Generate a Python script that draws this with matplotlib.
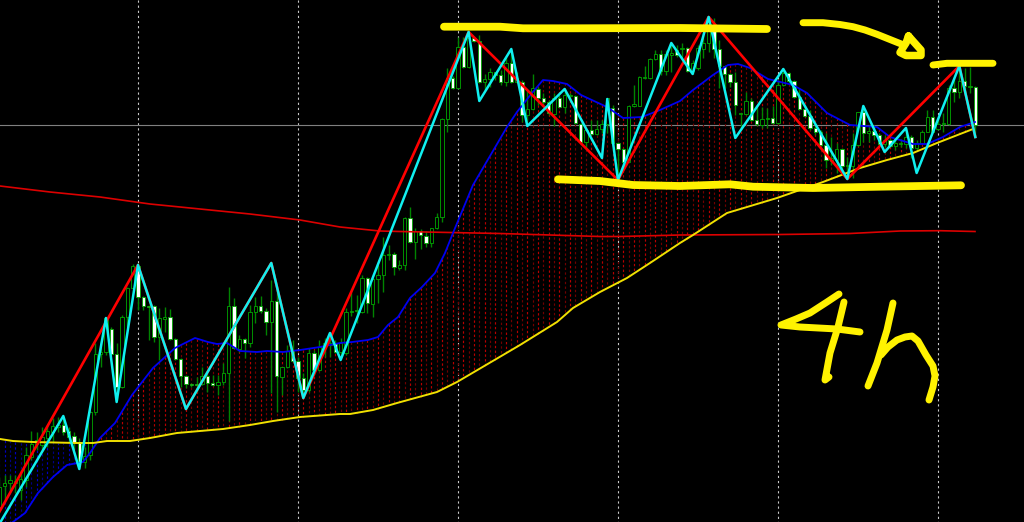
#!/usr/bin/env python3
"""
4h candle chart with moving averages, zigzag lines and hand drawn marks.
Prices are kept in screen units read off the picture at 3x (y grows downwards).
"""

import numpy as np
import matplotlib
matplotlib.use("Agg")
import matplotlib.pyplot as plt

opens = [
    1520, 1458, 1450, 1448, 1470, 1440, 1370, 1332, 1335, 1315,
    1295, 1280, 1275, 1293, 1308, 1325, 1387, 1365, 1237, 1063,
    1055, 988, 1062, 1162, 950, 863, 798, 892, 918, 918,
    1012, 956, 952, 1018, 1077, 1127, 1153, 1153, 1153, 1128,
    1150, 1155, 1147, 1120, 918, 1046, 1018, 1030, 937, 918,
    933, 967, 902, 1130, 1102, 1050, 1083, 1135, 1170, 1060,
    1110, 1042, 1034, 1028, 1055, 1060, 935, 933, 935, 835,
    912, 838, 825, 765, 762, 803, 796, 655, 727, 692,
    707, 730, 685, 650, 358, 233, 265, 140, 200, 115,
    122, 247, 238, 217, 226, 247, 190, 247, 245, 345,
    327, 267, 295, 306, 342, 295, 322, 288, 287, 372,
    425, 390, 402, 388, 372, 323, 430, 447, 485, 317,
    317, 234, 235, 178, 163, 212, 165, 150, 148, 145,
    212, 205, 147, 128, 80, 147, 198, 222, 247, 343,
    341, 302, 360, 375, 358, 353, 370, 255, 218, 243,
    290, 327, 347, 385, 395, 435, 483, 480, 448, 498,
    497, 435, 337, 398, 393, 405, 432, 420, 438, 433,
    433, 410, 445, 430, 395, 352, 388, 373, 373, 265,
    275, 242, 261, 260,
]
closes = [
    1460, 1448, 1440, 1442, 1438, 1365, 1332, 1320, 1310, 1292,
    1278, 1275, 1295, 1310, 1325, 1385, 1367, 1237, 1063, 1055,
    955, 1062, 1162, 950, 863, 798, 892, 918, 920, 1012,
    955, 952, 1018, 1077, 1127, 1153, 1156, 1156, 1128, 1150,
    1155, 1147, 1118, 918, 1043, 1018, 1030, 937, 918, 933,
    967, 902, 1127, 1102, 1052, 1083, 1135, 1170, 1060, 1110,
    1042, 1030, 1030, 1055, 1028, 935, 932, 930, 835, 910,
    838, 825, 765, 762, 802, 796, 655, 727, 692, 706,
    728, 685, 650, 358, 233, 265, 140, 200, 115, 122,
    247, 238, 217, 226, 247, 190, 247, 233, 345, 327,
    265, 295, 306, 340, 295, 320, 285, 285, 370, 425,
    390, 402, 388, 372, 295, 430, 447, 485, 317, 313,
    230, 230, 178, 163, 212, 163, 160, 165, 145, 212,
    190, 145, 128, 65, 147, 198, 222, 247, 315, 340,
    302, 360, 373, 358, 353, 370, 255, 218, 243, 290,
    327, 347, 385, 395, 435, 480, 475, 448, 497, 495,
    435, 337, 398, 393, 405, 432, 420, 438, 430, 430,
    410, 445, 430, 395, 352, 395, 372, 370, 265, 275,
    242, 258, 258, 375,
]
highs = [
    1430, 1425, 1425, 1425, 1410, 1340, 1292, 1295, 1280, 1275,
    1255, 1250, 1250, 1280, 1295, 1315, 1340, 1230, 1030, 1030,
    950, 980, 1030, 945, 860, 792, 788, 888, 915, 915,
    925, 920, 928, 1015, 1075, 1125, 1150, 1130, 1100, 1120,
    1125, 1125, 1090, 862, 895, 1005, 1015, 915, 890, 888,
    925, 840, 860, 1100, 1035, 1020, 1070, 1120, 1045, 1050,
    1020, 1015, 1010, 1020, 1015, 925, 875, 885, 825, 832,
    833, 795, 710, 735, 755, 780, 652, 622, 685, 687,
    692, 683, 640, 355, 205, 228, 110, 110, 95, 112,
    105, 222, 205, 215, 210, 170, 150, 215, 240, 270,
    222, 262, 280, 300, 280, 285, 267, 280, 285, 370,
    385, 360, 360, 360, 295, 315, 425, 445, 315, 255,
    228, 198, 175, 150, 150, 150, 130, 135, 130, 140,
    180, 135, 100, 50, 55, 120, 195, 220, 215, 340,
    275, 295, 320, 320, 325, 318, 240, 205, 215, 240,
    265, 315, 330, 375, 390, 400, 410, 430, 445, 470,
    400, 335, 315, 375, 375, 400, 405, 417, 420, 418,
    385, 405, 420, 390, 330, 330, 350, 340, 255, 235,
    200, 205, 200, 258,
]
lows = [
    1540, 1500, 1480, 1480, 1500, 1460, 1380, 1350, 1350, 1340,
    1325, 1295, 1305, 1330, 1350, 1405, 1405, 1380, 1245, 1100,
    1065, 1065, 1200, 1165, 980, 865, 930, 930, 1020, 1025,
    1080, 995, 1020, 1080, 1160, 1165, 1160, 1175, 1155, 1175,
    1158, 1185, 1155, 1263, 1048, 1055, 1075, 1040, 970, 940,
    1005, 1180, 1235, 1185, 1105, 1085, 1175, 1180, 1175, 1125,
    1112, 1070, 1070, 1060, 1070, 1065, 948, 970, 940, 940,
    952, 910, 875, 780, 825, 810, 810, 730, 778, 747,
    742, 742, 688, 665, 395, 268, 268, 205, 205, 125,
    250, 270, 260, 240, 255, 258, 250, 250, 365, 375,
    330, 315, 315, 345, 377, 322, 340, 300, 372, 428,
    445, 405, 405, 400, 400, 432, 540, 488, 487, 320,
    318, 237, 238, 180, 225, 225, 215, 170, 180, 215,
    222, 210, 175, 155, 175, 265, 265, 260, 345, 390,
    345, 362, 378, 385, 385, 372, 372, 258, 250, 295,
    330, 350, 390, 405, 437, 505, 495, 520, 525, 530,
    535, 438, 425, 425, 420, 435, 440, 442, 450, 440,
    445, 475, 450, 433, 397, 397, 390, 395, 375, 305,
    295, 285, 280, 410,
]

# zigzag turning points: bar number and level in pixels
cyan_bars = [0, 12, 15, 20, 22, 26, 35, 51, 57, 62, 64, 88, 90, 96, 99, 106,
             113, 114, 116, 126, 130, 133, 138, 147, 159, 162, 166, 170, 172,
             180, 183]
cyan_levels = [524, 416, 469, 318, 402, 265, 409, 263, 398, 333, 360, 32, 101,
               49, 126, 89, 158, 99, 180, 43, 74, 17, 138, 69, 179, 106, 152,
               128, 173, 66, 137]
red_bars = [0, 26, 35, 51, 57, 88, 116, 133, 159, 180, 183]
red_levels = [512, 265, 409, 263, 398, 32, 180, 17, 179, 66, 137]

# moving averages
slow_x = [0, 50, 100, 150, 200, 250, 300, 340, 380, 400, 450, 500, 550, 600,
          620, 680, 780, 850, 900, 940, 975]
slow_y = [186, 192, 197, 204, 209, 214, 220, 227, 231, 231.5, 232.5, 233.5,
          235, 236.5, 236.5, 235, 234.5, 233.5, 231, 230.7, 231.5]
mid_x = [0, 13, 25, 38, 53, 67, 83, 90, 100, 115, 132, 153, 175, 195, 208, 217,
         227, 240, 257, 267, 283, 300, 320, 340, 352, 368, 378, 388, 398, 410,
         422, 435, 445, 453, 473, 507, 517, 532, 543, 553, 567, 581, 607, 623,
         642, 660, 680, 693, 713, 728, 738, 750, 768, 793, 807, 827, 850, 877,
         890, 913, 927, 943, 960, 975]
mid_y = [530, 522, 513, 493, 477, 465, 462, 453, 438, 423, 395, 368, 348, 338,
         342, 344, 343, 351, 352, 351, 352, 350, 347, 343, 342, 340, 337, 325,
         317, 298, 287, 273, 253, 233, 185, 127, 112, 93, 80, 81, 84, 95, 107,
         118, 117, 110, 101, 90, 75, 65, 64, 68, 79, 85, 93, 113, 125, 127,
         137, 144, 144, 137, 127, 122]
long_x = [0, 13, 33, 77, 93, 107, 130, 150, 177, 223, 250, 273, 300, 340, 350,
          373, 397, 437, 457, 503, 520, 557, 573, 600, 627, 650, 680, 693, 727,
          777, 797, 823, 860, 887, 913, 937, 973]
long_y = [439, 441, 442, 443, 443, 441, 441, 438, 433, 429, 425, 421, 417, 414,
          414, 410, 403, 392, 382, 355, 345, 322, 308, 292, 278, 263, 243, 235,
          213, 198, 191, 182, 168, 160, 153, 143, 129]

grid_bars = [26, 56, 86, 116, 146, 176]

# hand drawn yellow marks
top_mark_x = [444, 500, 523, 573, 680, 767]
top_mark_y = [26.7, 26.7, 28.3, 28.3, 28, 29]
low_mark_x = [558, 600, 633, 680, 730, 753, 813, 880, 961]
low_mark_y = [179.3, 181, 185, 186, 184.3, 186.7, 188, 186.7, 185.3]
peak_mark_x = [933, 947, 993]
peak_mark_y = [65, 63.3, 63.3]
arrow_x = [803, 823, 840, 853, 865, 877, 902]
arrow_y = [22.7, 22.7, 24.5, 26.7, 30, 34.3, 44.3]
head_x = [908.5, 921, 921, 906, 900, 906, 908.5]
head_y = [36, 50, 55.5, 55.5, 52.5, 43, 36]
four_a_x = [839, 827, 810, 796, 781, 800, 837, 860]
four_a_y = [294, 302, 313, 319, 325, 327, 329, 332]
four_b_x = [844, 838, 830, 825, 829]
four_b_y = [302, 327, 353, 380, 377]
h_a_x = [893, 887, 877, 868]
h_a_y = [303, 330, 363, 386]
h_b_x = [881, 888, 897, 905, 912, 918, 926, 933, 935, 933, 929]
h_b_y = [355, 347, 340, 337, 336, 341, 355, 366, 376, 387, 400]

BAR_STEP = 16 / 3
BAR_START = -0.7


def bar_positions(bars):
    return BAR_START + BAR_STEP * np.asarray(bars)


def draw_hatch(ax, bar_x):
    """Dotted bars between the mid and the long average."""
    mid = np.interp(bar_x, mid_x, mid_y)
    long_ma = np.interp(bar_x, long_x, long_y)
    for n, (x, a, b) in enumerate(zip(bar_x, mid, long_ma)):
        if x > 975:
            continue
        if a < b:
            color = "#b80000" if n % 2 else "#700000"
        else:
            color = "#0000c0" if n % 2 else "#000080"
        ax.plot([x, x], [a, b], color=color, lw=0.85,
                linestyle=(0, (2.0, 2.0)), zorder=2)


def draw_candles(ax, bar_x):
    o = np.array(opens) / 3
    c = np.array(closes) / 3
    h = np.array(highs) / 3
    l = np.array(lows) / 3
    ax.vlines(bar_x, h, l, color="#008400", lw=1.0, zorder=3)
    top = np.minimum(o, c)
    height = np.abs(o - c)
    faces = ["#000000" if cl < op else "#ffffff" for op, cl in zip(o, c)]
    ax.bar(bar_x, height, bottom=top, width=3.6, color=faces,
           edgecolor="#00a800", linewidth=0.6, zorder=4)


def draw_marks(ax):
    strokes = [
        (top_mark_x, top_mark_y, 5.6), (low_mark_x, low_mark_y, 5.6),
        (peak_mark_x, peak_mark_y, 5.0), (arrow_x, arrow_y, 5.0),
        (head_x, head_y, 5.4), (four_a_x, four_a_y, 5.0),
        (four_b_x, four_b_y, 5.0), (h_a_x, h_a_y, 5.0), (h_b_x, h_b_y, 5.0),
    ]
    for xs, ys, width in strokes:
        ax.plot(xs, ys, color="#fff200", lw=width, solid_capstyle="round",
                solid_joinstyle="round", zorder=9)


def main():
    fig = plt.figure(figsize=(10.24, 5.22), dpi=100, facecolor="black")
    ax = fig.add_axes([0, 0, 1, 1], facecolor="black")
    ax.set_xlim(0, 1024)
    ax.set_ylim(522, 0)
    ax.axis("off")

    bar_x = bar_positions(np.arange(len(opens)))

    # grid
    for x in bar_positions(grid_bars):
        ax.plot([x, x], [0, 522], color="#c8c8c8", lw=0.8,
                linestyle=(0, (2.0, 2.6)), zorder=1)
    ax.plot([0, 1024], [125, 125], color="#808080", lw=0.8, zorder=1)

    draw_hatch(ax, bar_x)
    draw_candles(ax, bar_x)

    ax.plot(slow_x, slow_y, color="#dc0000", lw=1.2, zorder=5)
    ax.plot(mid_x, mid_y, color="#0000f0", lw=1.3, zorder=5)
    ax.plot(long_x, long_y, color="#f0e000", lw=1.4, zorder=5)

    ax.plot(bar_positions(red_bars), red_levels, color="#ff0000", lw=1.9, zorder=6)
    ax.plot(bar_positions(cyan_bars), cyan_levels, color="#10f0f0", lw=1.8, zorder=7)

    draw_marks(ax)

    fig.savefig("out.png", dpi=100, facecolor="black")


if __name__ == "__main__":
    main()
